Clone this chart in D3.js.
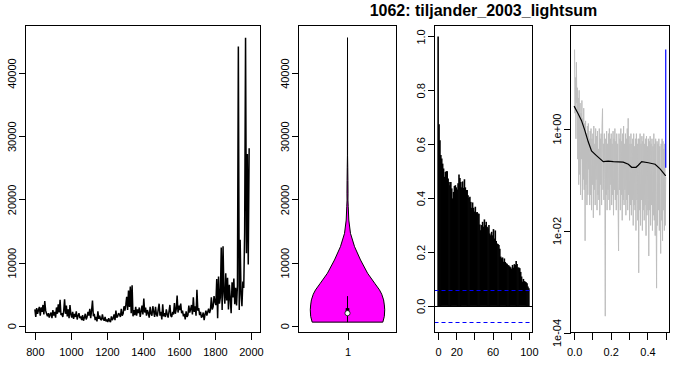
<!DOCTYPE html>
<html>
<head>
<meta charset="utf-8">
<script src="https://cdn.jsdelivr.net/npm/d3@7/dist/d3.min.js"></script>
<style>
body { margin: 0; background: #fff; }
text { font-family: "Liberation Sans", Arial, sans-serif; }
</style>
</head>
<body>
<div id="chart"></div>
<script>
// ---- data ----
var title = "1062: tiljander_2003_lightsum";

var firstYear = 800, yearStep = 5;
// lightsum, one value every 5 years from 800
var lightsum = [
  2600, 1400, 2800, 1900, 2500, 3000, 1600, 2900, 2200, 3300,
  1800, 3900, 2400, 1900, 1500, 2000, 1300, 1800, 2100, 1200,
  2500, 1600, 2200, 1300, 2900, 1900, 3400, 2100, 4100, 1700,
  2000, 1400, 2300, 4200, 1900, 3200, 1500, 2600, 1200, 3300,
  1800, 1300, 2200, 1100, 1900, 1400, 2300, 1000, 1600, 2000,
  1200, 1500, 900, 1700, 800, 1300, 1900, 1000, 1400, 2200,
  1600, 2700, 1200, 2400, 4000, 1500, 1900, 900, 1400, 700,
  2300, 1100, 1600, 1000, 900, 1800, 1100, 800, 1400, 700,
  1000, 600, 1200, 800, 600, 1500, 900, 1200, 1800, 900,
  2400, 1300, 1500, 2000, 1800, 1400, 2700, 1600, 1900, 3100,
  2400, 3300, 4600, 2500, 5600, 3000, 6200, 2000, 6400, 1500,
  2500, 1700, 3000, 1600, 2600, 2000, 2900, 1400, 2300, 3200,
  1800, 4300, 2100, 2900, 1600, 2500, 2000, 1300, 3000, 1900,
  1600, 3100, 2200, 1400, 3000, 1800, 1500, 2600, 3500, 1600,
  2200, 1000, 3400, 1500, 2000, 1400, 2600, 1800, 1300, 2300,
  3300, 1600, 1400, 2200, 1800, 3600, 1900, 2600, 4800, 2100,
  3200, 2500, 3500, 2000, 2400, 1500, 1900, 1000, 2300, 1400,
  1700, 3200, 2100, 2600, 3300, 1800, 4500, 2200, 3100, 1600,
  5700, 2400, 2800, 1700, 2200, 1300, 1500, 2100, 900, 1800,
  2400, 1600, 2200, 2700, 2000, 2500, 4500, 2600, 3000, 4700,
  3800, 3300, 7400, 1200, 7800, 3500, 4500, 12400, 2500, 12600,
  5200, 3500, 8300, 4000, 7600, 2600, 6500, 4300, 2000, 6900,
  4500, 7500, 3400, 6000, 3200, 6400, 44200, 2500, 13600, 5000,
  3100, 7000, 6000, 14800, 45600, 11500, 27200, 9700, 28100
];

// violin outline: value and relative half width
var violinAt    = [580, 1500, 2530, 3300, 4100, 5000, 5680, 6740, 8320, 10420, 12520, 14630, 16740, 18840, 19900, 21000, 23000, 25000, 27000, 45600];
var violinWidth = [0.95, 0.99, 1.0, 0.99, 0.97, 0.92, 0.86, 0.73, 0.54, 0.35, 0.19, 0.08, 0.035, 0.02, 0.012, 0.014, 0.011, 0.007, 0.002, 0];
// lower whisker, q1, median, q3, upper whisker
var boxStats = [580, 1700, 2000, 2800, 4700];

// autocorrelation, lags 0..100
var acf = [
  1.0, 0.674, 0.615, 0.56, 0.547, 0.528, 0.51, 0.479, 0.497, 0.5,
  0.5, 0.473, 0.46, 0.448, 0.46, 0.436, 0.399, 0.423, 0.445, 0.448,
  0.44, 0.432, 0.455, 0.488, 0.475, 0.46, 0.44, 0.462, 0.438, 0.47,
  0.44, 0.43, 0.43, 0.411, 0.4, 0.405, 0.386, 0.364, 0.384, 0.364,
  0.35, 0.368, 0.347, 0.348, 0.343, 0.342, 0.302, 0.281, 0.3, 0.312,
  0.294, 0.321, 0.3, 0.312, 0.294, 0.288, 0.3, 0.269, 0.262, 0.275,
  0.262, 0.285, 0.25, 0.28, 0.241, 0.232, 0.23, 0.226, 0.212, 0.183,
  0.177, 0.18, 0.164, 0.176, 0.163, 0.158, 0.156, 0.152, 0.15, 0.146,
  0.143, 0.138, 0.152, 0.142, 0.155, 0.152, 0.167, 0.155, 0.142, 0.142,
  0.14, 0.126, 0.109, 0.09, 0.1, 0.092, 0.09, 0.088, 0.084, 0.072,
  0.065
];
var acfCI = 0.058;

// raw spectrum (log10), frequencies 0.0025 .. 0.5
var specLog = [
  1.55, 0.3, 1.0, -0.2, 1.3, 0.5, 0.8, -0.6, 0.6, -1.1,
  0.75, -0.9, 0.5, -1.3, 0.3, -0.6, 0.55, -1.4, 0.2, -1.0,
  0.4, -1.2, 0.1, -2.2, 0.15, -1.1, -0.1, -1.5, 0.05, -1.3,
  0.1, -0.8, -0.2, -1.5, -0.05, -1.3, 0.0, -1.6, -0.2, -1.1,
  -0.1, -1.75, 0.05, -1.2, -0.3, -1.5, 0.0, -1.0, -0.15, -1.6,
  -0.05, -1.3, -0.4, -1.4, 0.0, -1.7, -0.2, -1.1, -0.1, -1.5,
  0.05, 0.39, -1.2, -0.3, -1.4, -0.1, -1.0, -3.68, -0.2, -1.3,
  -0.05, -1.6, -0.3, -1.2, -0.1, -1.4, 0.0, -1.6, -0.2, -1.1,
  -0.1, -1.5, -0.3, -1.3, -0.05, -1.7, -0.2, -1.2, 0.0, -1.4,
  -0.25, -1.6, -0.1, -1.3, -0.3, -1.5, -2.4, -0.1, -1.2, -0.2,
  -1.6, 0.0, -1.3, -0.25, -1.8, -0.1, -1.4, 0.05, -1.5, -0.3,
  -1.2, -0.1, -1.7, -0.2, -1.4, 0.0, -1.6, 0.2, -1.3, -0.15,
  -1.8, -0.3, -1.5, -0.1, -1.7, -0.3, -1.4, -0.2, -1.9, -0.1,
  -1.5, -0.35, -1.6, -0.2, -2.0, -0.1, -1.4, -0.3, -1.8, -0.2,
  -2.83, -0.2, -1.6, -0.1, -1.9, -0.3, -1.4, -0.15, -2.0, -0.25,
  -1.6, -0.1, -1.8, -0.3, -1.5, -0.2, -2.1, -0.15, -1.7, -0.35,
  -1.6, -0.2, -2.5, -0.25, -1.6, -0.15, -1.9, -0.3, -1.5, -0.2,
  -2.0, -0.35, -1.7, -0.1, -1.8, -0.3, -2.1, -0.2, -1.6, -3.13,
  -0.25, -1.9, -0.3, -1.6, -0.2, -2.0, -0.35, -1.7, -2.45, -0.3,
  -1.8, -0.2, -2.2, -0.25, -1.6, -0.4, -2.0, -0.3, -1.9, -0.95
];
// smoothed spectrum
var smoothFreq = [0, 0.022, 0.040, 0.058, 0.077, 0.095, 0.122, 0.159, 0.186, 0.214, 0.268, 0.296, 0.314, 0.338, 0.350, 0.369, 0.405, 0.442, 0.469, 0.5];
var smoothLog  = [0.44, 0.29, 0.16, -0.03, -0.26, -0.44, -0.53, -0.65, -0.64, -0.65, -0.66, -0.70, -0.76, -0.76, -0.72, -0.65, -0.67, -0.70, -0.79, -0.93];
var specBar = [0.17, 35.5]; // blue bar at f = 0.5

// ---- layout ----
var width = 681, height = 371;
var plotTop = 25.5, plotBottom = 332.5;
var tickLen = 7;

var svg = d3.select("#chart").append("svg")
    .attr("width", width)
    .attr("height", height);

svg.append("text")
  .attr("x", 483.5)
  .attr("y", 16)
  .attr("text-anchor", "middle")
  .style("font-weight", "bold")
  .style("font-size", "16px")
  .text(title);

function box(left, right) {
  svg.append("rect")
    .attr("x", left).attr("y", plotTop)
    .attr("width", right - left).attr("height", plotBottom - plotTop)
    .attr("fill", "none").attr("stroke", "black")
    .attr("shape-rendering", "crispEdges");
}

// x axis along the bottom, labels only where given
function xAxis(scale, ticks, labelled, fmt) {
  var g = svg.append("g")
    .attr("transform", "translate(0," + plotBottom + ")")
    .call(d3.axisBottom(scale).tickValues(ticks).tickSize(tickLen).tickPadding(9).tickFormat(fmt));
  g.select(".domain").remove();
  g.selectAll(".tick line").attr("shape-rendering", "crispEdges");
  g.selectAll(".tick text")
    .style("font-size", "11px")
    .style("font-family", "Liberation Sans, Arial, sans-serif")
    .text(function(d) { return labelled.indexOf(d) >= 0 ? fmt(d) : ""; });
}

// y axis on the left, labels turned like R does
function yAxis(scale, left, ticks, fmt) {
  var g = svg.append("g")
    .attr("transform", "translate(" + left + ",0)")
    .call(d3.axisLeft(scale).tickValues(ticks).tickSize(tickLen).tickFormat(fmt));
  g.select(".domain").remove();
  g.selectAll(".tick line").attr("shape-rendering", "crispEdges");
  g.selectAll(".tick text")
    .attr("transform", "rotate(-90)")
    .attr("x", 0)
    .attr("y", -10)
    .attr("dy", 0)
    .attr("text-anchor", "middle")
    .style("font-size", "11px")
    .style("font-family", "Liberation Sans, Arial, sans-serif");
}

// ---- panel 1: time series ----
var x1 = d3.scaleLinear().domain([748, 2053]).range([25.5, 260.5]);
var yv = d3.scaleLinear().domain([-1060, 47530]).range([plotBottom, plotTop]);

var line1 = d3.line()
  .x(function(d, i) { return x1(firstYear + i * yearStep); })
  .y(function(d) { return yv(d); });

svg.append("path")
  .datum(lightsum)
  .attr("d", line1)
  .attr("fill", "none")
  .attr("stroke", "black")
  .attr("stroke-width", 1.5)
  .attr("stroke-linejoin", "bevel");

box(25.5, 260.5);
var yearTicks = [800, 1000, 1200, 1400, 1600, 1800, 2000];
xAxis(x1, yearTicks, yearTicks, d3.format("d"));
yAxis(yv, 25.5, [0, 10000, 20000, 30000, 40000], d3.format("d"));

// ---- panel 2: violin ----
var xv = d3.scaleLinear().domain([0.46, 1.54]).range([298.5, 396.5]);
var halfW = d3.scaleLinear().domain([0, 1]).range([0, 0.41]);

var violinPts = violinAt.map(function(v, i) { return [1 - halfW(violinWidth[i]), v]; })
  .concat(violinAt.map(function(v, i) { return [1 + halfW(violinWidth[i]), v]; }).reverse());

svg.append("path")
  .datum(violinPts)
  .attr("d", d3.line().x(function(d) { return xv(d[0]); }).y(function(d) { return yv(d[1]); }).curve(d3.curveLinearClosed))
  .attr("fill", "#FF00FF")
  .attr("stroke", "black")
  .attr("stroke-width", 1);

svg.append("line")
  .attr("x1", xv(1)).attr("x2", xv(1))
  .attr("y1", yv(boxStats[0])).attr("y2", yv(boxStats[4]))
  .attr("stroke", "black");

svg.append("rect")
  .attr("x", xv(0.98)).attr("width", xv(1.02) - xv(0.98))
  .attr("y", yv(boxStats[3])).attr("height", yv(boxStats[1]) - yv(boxStats[3]))
  .attr("fill", "black");

svg.append("circle")
  .attr("cx", xv(1)).attr("cy", yv(boxStats[2]))
  .attr("r", 2.6)
  .attr("fill", "white")
  .attr("stroke", "black")
  .attr("stroke-width", 0.8);

box(298.5, 396.5);
xAxis(xv, [1], [1], d3.format("d"));
yAxis(yv, 298.5, [0, 10000, 20000, 30000, 40000], d3.format("d"));

// ---- panel 3: acf ----
var xa = d3.scaleLinear().domain([-4, 104]).range([434.5, 532.5]);
var ya = d3.scaleLinear().domain([-0.0988, 1.0407]).range([plotBottom, plotTop]);

svg.append("g").selectAll("line")
  .data(acf)
  .enter().append("line")
  .attr("x1", function(d, i) { return xa(i); })
  .attr("x2", function(d, i) { return xa(i); })
  .attr("y1", ya(0))
  .attr("y2", function(d) { return ya(d); })
  .attr("stroke", "black")
  .attr("stroke-width", 1.6);

svg.append("line")
  .attr("x1", 434.5).attr("x2", 532.5)
  .attr("y1", Math.round(ya(0)) + 0.5).attr("y2", Math.round(ya(0)) + 0.5)
  .attr("stroke", "black");

[acfCI, -acfCI].forEach(function(c) {
  svg.append("line")
    .attr("x1", 434.5).attr("x2", 532.5)
    .attr("y1", Math.round(ya(c)) + 0.5).attr("y2", Math.round(ya(c)) + 0.5)
    .attr("stroke", "#0000FF")
    .attr("stroke-dasharray", "4,3");
});

box(434.5, 532.5);
xAxis(xa, [0, 20, 40, 60, 80, 100], [0, 20, 60, 100], d3.format("d"));
yAxis(ya, 434.5, [0, 0.2, 0.4, 0.6, 0.8, 1.0], d3.format(".1f"));

// ---- panel 4: spectrum ----
var xs = d3.scaleLinear().domain([-0.0197, 0.5205]).range([570.5, 669.5]);
var ys = d3.scaleLog().domain([1e-4, 105]).range([plotBottom, plotTop]);
var freqAt = d3.scaleLinear().domain([0, specLog.length - 1]).range([0.0025, 0.5]);

svg.append("path")
  .datum(specLog)
  .attr("d", d3.line()
    .x(function(d, i) { return xs(freqAt(i)); })
    .y(function(d) { return ys(Math.pow(10, d)); }))
  .attr("fill", "none")
  .attr("stroke", "#BEBEBE")
  .attr("stroke-width", 1);

svg.append("path")
  .datum(smoothLog)
  .attr("d", d3.line()
    .x(function(d, i) { return xs(smoothFreq[i]); })
    .y(function(d) { return ys(Math.pow(10, d)); }))
  .attr("fill", "none")
  .attr("stroke", "black")
  .attr("stroke-width", 1.2);

svg.append("line")
  .attr("x1", xs(0.5)).attr("x2", xs(0.5))
  .attr("y1", ys(specBar[0])).attr("y2", ys(specBar[1]))
  .attr("stroke", "#0000FF")
  .attr("stroke-width", 1.2);

box(570.5, 669.5);
xAxis(xs, [0, 0.1, 0.2, 0.3, 0.4, 0.5], [0, 0.2, 0.4], d3.format(".1f"));
var logLabels = {"0.0001": "1e-04", "0.01": "1e-02", "1": "1e+00"};
yAxis(ys, 570.5, [1e-4, 1e-2, 1], function(d) { return logLabels[String(d)]; });
</script>
</body>
</html>
